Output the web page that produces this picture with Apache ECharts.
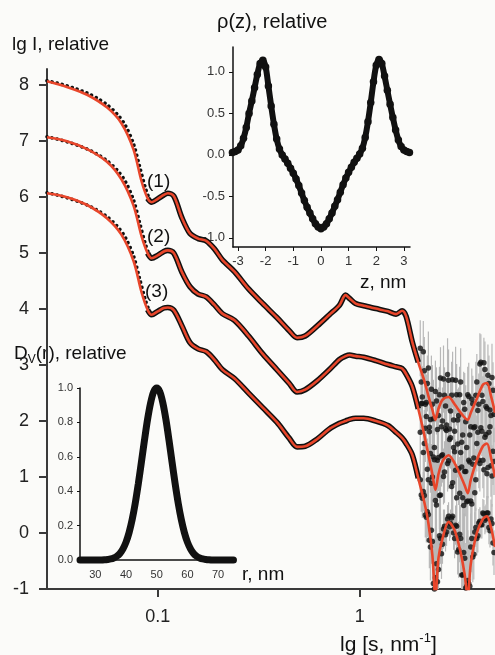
<!DOCTYPE html>
<html><head><meta charset="utf-8">
<script src="https://cdn.jsdelivr.net/npm/echarts@6/dist/echarts.min.js"></script>
<style>html,body{margin:0;padding:0;background:#fbfbf9}#c{width:495px;height:655px}</style>
</head><body><div id="c"></div><script>
// ---------- main plot: scattering curves (s in nm^-1, lg I) ----------
const sFit = [0.0283,0.0355,0.0447,0.0562,0.0661,0.0759,0.0832,0.0891,0.0933,0.1,0.1072,0.1122,0.1202,0.1318,0.1445,0.1585,0.1738,0.1905,0.2089,0.2399,0.2818,0.3311,0.389,0.4467,0.4898,0.537,0.6166,0.7079,0.7943,0.8511,0.8913,0.955,1.0471,1.2023,1.3804,1.5136,1.6218,1.6982,1.8197,1.9498,2.0893,2.1878,2.2909,2.3714,2.4547,2.5704,2.7542,2.9512,3.1623,3.3113,3.4277,3.5481,3.8019,4.0738,4.2658,4.4668,4.6774];
const fit1 = [8.07,7.97,7.83,7.60,7.32,6.85,6.28,5.98,5.91,5.97,6.04,6.07,6.02,5.63,5.35,5.26,5.22,5.08,4.88,4.67,4.36,4.10,3.85,3.62,3.49,3.52,3.70,3.90,4.07,4.25,4.19,4.10,4.06,4.01,3.96,3.91,3.97,3.87,3.42,3.05,2.72,2.45,2.20,2.02,2.22,2.38,2.43,2.30,2.15,2.06,2.02,2.15,2.40,2.65,2.68,2.45,2.15];
const fit2 = [7.07,7.00,6.86,6.63,6.32,5.85,5.30,5.00,4.91,4.96,5.03,5.05,5.00,4.66,4.40,4.27,4.22,4.08,3.92,3.80,3.52,3.20,2.92,2.68,2.52,2.56,2.72,2.92,3.10,3.16,3.18,3.16,3.14,3.08,3.01,2.97,2.94,2.84,2.62,2.22,1.75,1.40,1.05,0.77,1.05,1.28,1.39,1.25,1.02,0.85,0.71,0.95,1.30,1.55,1.60,1.35,1.00];
const fit3 = [6.07,6.00,5.86,5.62,5.33,4.86,4.30,3.99,3.90,3.96,4.02,4.03,3.98,3.70,3.40,3.29,3.24,3.10,2.92,2.76,2.50,2.24,1.98,1.70,1.54,1.55,1.68,1.86,1.96,2.00,2.03,2.05,2.05,2.00,1.92,1.80,1.70,1.60,1.40,0.98,0.55,0.18,-0.40,-1.15,-0.45,-0.10,0.20,0.05,-0.35,-0.75,-1.15,-0.55,0.00,0.25,0.30,0.10,-0.25];

const sLow = [0.0283,0.0316,0.0355,0.0398,0.0447,0.0501,0.0562,0.0631,0.0692,0.0759,0.0813,0.0871,0.0912];
const low1 = [8.08,8.04,7.99,7.93,7.86,7.77,7.65,7.48,7.28,6.95,6.55,6.15,5.95];
const low2 = [7.08,7.04,6.99,6.93,6.86,6.77,6.65,6.48,6.28,5.95,5.55,5.15,4.95];
const low3 = [6.08,6.04,5.99,5.93,5.86,5.77,5.65,5.48,5.28,4.95,4.55,4.15,3.95];

const sNoise = [1.995,2.042,2.089,2.138,2.188,2.239,2.291,2.344,2.399,2.455,2.512,2.570,2.630,2.692,2.754,2.818,2.884,2.951,3.020,3.090,3.162,3.236,3.311,3.388,3.467,3.548,3.631,3.715,3.802,3.890,3.981,4.074,4.169,4.266,4.365,4.467,4.571];
const noise1 = [3.30,2.43,2.90,2.33,2.95,2.03,2.30,1.53,2.36,2.10,2.77,2.00,2.46,1.83,2.73,2.18,2.74,1.82,2.47,2.10,2.70,1.75,2.21,1.53,2.44,1.90,2.31,1.90,2.70,2.30,3.05,2.35,2.92,2.23,2.67,2.10,2.55];
const noise2 = [1.80,2.32,1.60,2.08,0.95,1.42,1.00,1.31,0.50,1.35,0.68,1.40,1.09,1.93,1.29,1.70,0.90,1.45,0.63,1.15,1.44,0.63,1.10,0.56,1.30,0.57,1.23,0.72,1.60,1.30,1.88,1.30,1.71,1.06,1.80,1.20,1.46];
const noise3 = [0.95,0.62,0.67,0.28,0.33,-0.25,-0.15,-1.00,-0.55,-0.65,-0.10,-0.20,0.12,0.02,0.30,0.17,0.30,-0.10,0.12,-0.30,-0.10,-0.75,-0.45,-0.95,-0.90,-0.25,-0.43,0.02,-0.10,0.18,0.15,0.36,0.23,0.36,0.10,0.25,-0.18];
const sNoiseB = [2.018,2.065,2.113,2.163,2.213,2.265,2.317,2.371,2.427,2.483,2.541,2.600,2.661,2.723,2.786,2.851,2.917,2.985,3.055,3.126,3.199,3.273,3.350,3.428,3.508,3.589,3.673,3.758,3.846,3.936,4.027,4.121,4.217,4.315,4.416,4.519,4.624];
const noise1b = [2.70,3.24,2.30,2.67,1.89,2.57,2.04,2.53,1.85,2.47,1.90,2.75,2.27,2.83,1.86,2.46,2.02,2.73,2.02,2.47,1.62,2.33,1.99,2.47,1.75,2.39,1.88,2.46,2.19,3.02,2.46,3.04,2.26,2.82,2.20,2.78,2.12];
const noise2b = [2.31,1.44,1.87,1.14,1.81,0.89,1.36,0.58,1.30,0.67,1.38,1.01,1.86,1.24,1.67,0.83,1.53,1.12,1.59,0.71,1.18,0.49,1.10,0.57,1.27,0.52,1.34,0.95,1.80,1.24,1.82,1.13,1.76,1.17,1.90,1.02,1.28];
const noise3b = [0.68,0.74,0.32,0.38,-0.13,0.05,-0.90,-0.80,-0.87,-0.05,-0.37,0.07,-0.03,0.25,0.11,0.27,0.00,0.14,-0.34,-0.02,-0.75,-0.35,-0.98,-0.85,-0.95,-0.10,-0.38,0.10,-0.05,0.21,0.15,0.34,0.26,0.36,0.04,0.17,-0.35];
const err1 = [0.5,0.55,0.6,0.5,0.65,0.6,0.7,0.55,0.6,0.5,0.55,0.6,0.5,0.65,0.55,0.6,0.5,0.6,0.55,0.5,0.6,0.55,0.65,0.5,0.6,0.55,0.5,0.6,0.5,0.55,0.5,0.45,0.5,0.55,0.5,0.6,0.5];
const err2 = [0.55,0.5,0.6,0.55,0.65,0.7,0.75,0.7,0.8,0.6,0.55,0.5,0.55,0.5,0.5,0.55,0.6,0.55,0.6,0.65,0.7,0.75,0.8,0.75,0.7,0.65,0.6,0.55,0.5,0.5,0.45,0.5,0.5,0.55,0.6,0.55,0.6];
const err3 = [0.3,0.35,0.4,0.45,0.5,0.6,0.8,0.9,0.8,0.6,0.45,0.35,0.3,0.25,0.25,0.25,0.3,0.35,0.4,0.5,0.6,0.7,0.8,0.9,0.8,0.6,0.45,0.35,0.3,0.25,0.25,0.25,0.25,0.3,0.3,0.35,0.4];

const mainXTicks = [0.1, 1];
const mainYTicks = [-1,0,1,2,3,4,5,6,7,8];
const curveLabels = ['(1)','(2)','(3)'];

// ---------- inset: rho(z) ----------
const zVals = [-3.2,-3.1,-3.0,-2.9,-2.8,-2.7,-2.6,-2.5,-2.4,-2.3,-2.2,-2.1,-2.0,-1.9,-1.8,-1.7,-1.6,-1.5,-1.4,-1.3,-1.2,-1.1,-1.0,-0.9,-0.8,-0.7,-0.6,-0.5,-0.4,-0.3,-0.2,-0.1,0.0,0.1,0.2,0.3,0.4,0.5,0.6,0.7,0.8,0.9,1.0,1.1,1.2,1.3,1.4,1.5,1.6,1.7,1.8,1.9,2.0,2.1,2.2,2.3,2.4,2.5,2.6,2.7,2.8,2.9,3.0,3.1,3.2];
const rhoVals = [0.03,0.04,0.06,0.11,0.20,0.33,0.50,0.65,0.81,0.97,1.10,1.14,1.06,0.83,0.59,0.37,0.19,0.07,0.00,-0.05,-0.10,-0.16,-0.22,-0.29,-0.37,-0.46,-0.55,-0.63,-0.70,-0.77,-0.83,-0.87,-0.89,-0.87,-0.83,-0.77,-0.70,-0.62,-0.54,-0.45,-0.36,-0.28,-0.21,-0.15,-0.09,-0.04,0.01,0.08,0.21,0.40,0.63,0.88,1.08,1.15,1.10,0.95,0.78,0.61,0.45,0.30,0.18,0.10,0.06,0.04,0.03];
const rhoXTicks = [-3,-2,-1,0,1,2,3];
const rhoYTicks = [-1.0,-0.5,0.0,0.5,1.0];

// ---------- inset: Dv(r) ----------
const rVals = [25,26,27,28,29,30,31,32,33,34,35,36,37,38,39,40,41,42,43,44,45,46,47,48,49,50,51,52,53,54,55,56,57,58,59,60,61,62,63,64,65,66,67,68,69,70,71,72,73,74,75];
const dvVals = [0,0,0,0,0,0,0,0,0.001,0.003,0.006,0.012,0.022,0.038,0.065,0.104,0.160,0.235,0.330,0.443,0.568,0.696,0.816,0.913,0.978,1.000,0.978,0.913,0.816,0.696,0.568,0.443,0.330,0.235,0.160,0.104,0.065,0.038,0.022,0.012,0.006,0.003,0.001,0,0,0,0,0,0,0,0];
const dvXTicks = [30,40,50,60,70];
const dvYTicks = [0,0.2,0.4,0.6,0.8,1.0];

// ---------------------------------------------------------------
const FONT = '"Liberation Sans", Arial, Helvetica, sans-serif';
const RED = '#e8462b';
const INK = '#111';
const pairs = (xs, ys) => xs.map((x, i) => [x, ys[i]]);

function errSeries(s, y, e) {
  return {
    type: 'custom', xAxisIndex: 0, yAxisIndex: 0, clip: true, z: 1, silent: true,
    data: s.map((v, i) => [v, y[i] - e[i], y[i] + e[i]]),
    encode: { x: 0, y: [1, 2] },
    renderItem(params, api) {
      const p1 = api.coord([api.value(0), api.value(1)]);
      const p2 = api.coord([api.value(0), api.value(2)]);
      return { type: 'line', shape: { x1: p1[0], y1: p1[1], x2: p2[0], y2: p2[1] },
               style: { stroke: '#b8b8b8', lineWidth: 1.2 } };
    }
  };
}
function noiseSeries(s, y) {
  return { type: 'scatter', xAxisIndex: 0, yAxisIndex: 0, data: pairs(s, y), symbolSize: 5.5,
           itemStyle: { color: INK }, z: 2, silent: true, clip: true };
}
function lowSeries(s, y) {
  return { type: 'line', xAxisIndex: 0, yAxisIndex: 0, data: pairs(s, y), showSymbol: false, smooth: 0.3,
           lineStyle: { color: INK, width: 3.6, type: [0.01, 5.2], cap: 'round' }, z: 2, silent: true };
}
function bandSeries(s, y) {
  const d = pairs(s, y).filter(p => p[0] >= 0.088 && p[0] <= 1.96);
  return { type: 'line', xAxisIndex: 0, yAxisIndex: 0, data: d, showSymbol: false, smooth: 0.3,
           lineStyle: { color: INK, width: 5.6 }, z: 3, silent: true };
}
function fitSeries(s, y) {
  return { type: 'line', xAxisIndex: 0, yAxisIndex: 0, data: pairs(s, y), showSymbol: false, smooth: 0.3,
           lineStyle: { color: RED, width: 2.6 }, z: 4, silent: true, clip: true };
}

const series = [];
[[sNoise, noise1, err1], [sNoise, noise2, err2], [sNoise, noise3, err3],
 [sNoiseB, noise1b, err1], [sNoiseB, noise2b, err2], [sNoiseB, noise3b, err3]]
  .forEach(([s, n, e]) => series.push(errSeries(s, n, e)));
[[sNoise, noise1], [sNoise, noise2], [sNoise, noise3], [sNoiseB, noise1b], [sNoiseB, noise2b], [sNoiseB, noise3b]]
  .forEach(([s, n]) => series.push(noiseSeries(s, n)));
[low1, low2, low3].forEach(l => series.push(lowSeries(sLow, l)));
[fit1, fit2, fit3].forEach(f => series.push(bandSeries(sFit, f)));
[fit1, fit2, fit3].forEach(f => series.push(fitSeries(sFit, f)));

series.push({ type: 'line', xAxisIndex: 1, yAxisIndex: 1, data: pairs(zVals, rhoVals), smooth: 0.3,
  symbol: 'circle', symbolSize: 7.5, showSymbol: true, itemStyle: { color: INK },
  lineStyle: { color: INK, width: 6 }, clip: false, silent: true, z: 5 });
series.push({ type: 'line', xAxisIndex: 2, yAxisIndex: 2, data: pairs(rVals, dvVals), smooth: 0.3,
  showSymbol: false, lineStyle: { color: INK, width: 7, cap: 'round' }, clip: false, silent: true, z: 5 });

const mainAxisLine = { show: true, onZero: false, lineStyle: { color: '#3a3a3a', width: 2 } };
const insetAxisLine = { show: true, onZero: false, lineStyle: { color: INK, width: 1.5 } };

const chart = echarts.init(document.getElementById('c'), null, { renderer: 'canvas' });
chart.setOption({
  backgroundColor: '#fbfbf9',
  animation: false,
  grid: [
    { left: 47, top: 69, right: 0, bottom: 66 },
    { left: 233, top: 47, width: 177, height: 200 },
    { left: 80, top: 388, width: 155, height: 172 }
  ],
  xAxis: [
    { type: 'log', logBase: 10, gridIndex: 0, min: 0.0283, max: 4.677,
      axisLine: mainAxisLine,
      axisTick: { customValues: mainXTicks, length: 8, lineStyle: { color: '#3a3a3a', width: 2 } },
      axisLabel: { customValues: mainXTicks, fontSize: 18, color: '#222', fontFamily: FONT, margin: 19,
                   formatter: v => String(v) },
      splitLine: { show: false } },
    { type: 'value', gridIndex: 1, min: -3.18, max: 3.22,
      axisLine: insetAxisLine,
      axisTick: { customValues: rhoXTicks, length: 4, lineStyle: { color: INK } },
      axisLabel: { customValues: rhoXTicks, fontSize: 13, color: '#333', fontFamily: FONT, margin: 8 },
      splitLine: { show: false } },
    { type: 'value', gridIndex: 2, min: 25, max: 75.5,
      axisLine: insetAxisLine,
      axisTick: { show: false },
      axisLabel: { customValues: dvXTicks, fontSize: 11, color: '#333', fontFamily: FONT, margin: 9 },
      splitLine: { show: false } }
  ],
  yAxis: [
    { type: 'value', gridIndex: 0, min: -1, max: 8.29,
      axisLine: mainAxisLine,
      axisTick: { customValues: mainYTicks, length: 8, lineStyle: { color: '#3a3a3a', width: 2 } },
      axisLabel: { customValues: mainYTicks, fontSize: 18, color: '#222', fontFamily: FONT, margin: 18 },
      splitLine: { show: false } },
    { type: 'value', gridIndex: 1, min: -1.11, max: 1.30,
      axisLine: insetAxisLine,
      axisTick: { customValues: rhoYTicks, length: 4, lineStyle: { color: INK } },
      axisLabel: { customValues: rhoYTicks, fontSize: 13, color: '#333', fontFamily: FONT, margin: 8,
                   formatter: v => v.toFixed(1) },
      splitLine: { show: false } },
    { type: 'value', gridIndex: 2, min: 0, max: 1.0,
      axisLine: insetAxisLine,
      axisTick: { customValues: dvYTicks, length: 3, lineStyle: { color: INK } },
      axisLabel: { customValues: dvYTicks, fontSize: 11, color: '#333', fontFamily: FONT, margin: 7,
                   formatter: v => v.toFixed(1) },
      splitLine: { show: false } }
  ],
  graphic: [
    { type: 'text', x: 12, y: 45, style: { text: 'lg I, relative', fontSize: 19, fontFamily: FONT, fill: INK, verticalAlign: 'middle' } },
    { type: 'text', x: 217, y: 22, style: { text: 'ρ(z), relative', fontSize: 20, fontFamily: FONT, fill: INK, verticalAlign: 'middle' } },
    { type: 'text', x: 360, y: 283, style: { text: 'z, nm', fontSize: 19, fontFamily: FONT, fill: INK, verticalAlign: 'middle' } },
    { type: 'text', x: 14, y: 354, style: { text: '{a|D}{b|V}{a|(r), relative}', fontFamily: FONT, fill: INK, verticalAlign: 'middle',
        rich: { a: { fontSize: 19, fontFamily: FONT, fill: INK, lineHeight: 24 },
                b: { fontSize: 12, fontFamily: FONT, fill: INK, lineHeight: 12, verticalAlign: 'bottom' } } } },
    { type: 'text', x: 242, y: 575, style: { text: 'r, nm', fontSize: 19, fontFamily: FONT, fill: INK, verticalAlign: 'middle' } },
    { type: 'text', x: 340, y: 645, style: { text: '{a|lg [s, nm}{b|-1}{a|]}', fontFamily: FONT, fill: INK, verticalAlign: 'middle',
        rich: { a: { fontSize: 21, fontFamily: FONT, fill: INK, lineHeight: 26 },
                b: { fontSize: 13, fontFamily: FONT, fill: INK, lineHeight: 13, verticalAlign: 'top' } } } },
    { type: 'text', x: 147, y: 182, style: { text: curveLabels[0], fontSize: 19, fontFamily: FONT, fill: INK, verticalAlign: 'middle' } },
    { type: 'text', x: 147, y: 237, style: { text: curveLabels[1], fontSize: 19, fontFamily: FONT, fill: INK, verticalAlign: 'middle' } },
    { type: 'text', x: 145, y: 292, style: { text: curveLabels[2], fontSize: 19, fontFamily: FONT, fill: INK, verticalAlign: 'middle' } }
  ],
  series: series
});
</script></body></html>
